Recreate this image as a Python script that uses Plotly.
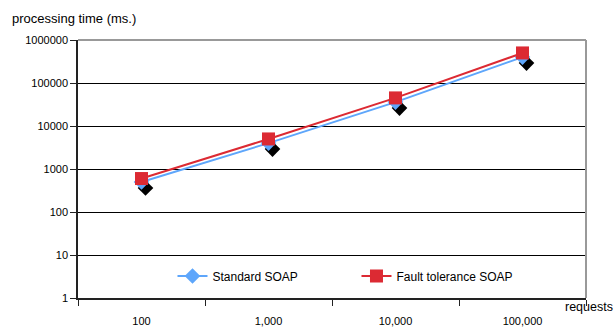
import plotly.graph_objects as go

categories = ["100", "1,000", "10,000", "100,000"]
standard_soap = [500, 4000, 36000, 400000]
fault_tolerance_soap = [600, 5000, 45000, 500000]
y_tick_vals = [1, 10, 100, 1000, 10000, 100000, 1000000]
y_tick_text = ["1", "10", "100", "1000", "10000", "100000", "1000000"]

FONT = "Liberation Sans, Arial, sans-serif"
BLUE = "#5ea6fb"
RED = "#dc2a33"

# shadow offsets (in axis units) to mimic the spreadsheet drop-shadow
sx = 4 / 127.0
sy = 6 / 43.0

fig = go.Figure()

# shadow markers (base axes, hidden)
fig.add_trace(go.Scatter(
    x=categories, y=standard_soap, mode="markers",
    marker=dict(symbol="diamond", size=12, color="black"),
    xaxis="x", yaxis="y", showlegend=False, hoverinfo="skip"))

fig.add_trace(go.Scatter(
    x=categories, y=standard_soap, name="Standard SOAP",
    mode="lines+markers",
    line=dict(color=BLUE, width=2),
    marker=dict(symbol="diamond", size=12, color=BLUE),
    xaxis="x2", yaxis="y2"))

fig.add_trace(go.Scatter(
    x=categories, y=fault_tolerance_soap, name="Fault tolerance SOAP",
    mode="lines+markers",
    line=dict(color=RED, width=2),
    marker=dict(symbol="square", size=13, color=RED),
    xaxis="x2", yaxis="y2"))

fig.update_layout(
    width=615, height=327,
    margin=dict(l=78, r=29, t=40, b=29, autoexpand=False),
    paper_bgcolor="white", plot_bgcolor="white",
    font=dict(family=FONT, size=11, color="black"),
    xaxis=dict(type="category", categoryorder="array", categoryarray=categories,
               range=[-0.5 - sx, 3.5 - sx], visible=False, showgrid=False,
               automargin=False),
    yaxis=dict(type="log", range=[0 + sy, 6 + sy], visible=False, showgrid=False,
               automargin=False),
    xaxis2=dict(type="category", categoryorder="array", categoryarray=categories,
                range=[-0.5, 3.5], overlaying="x", anchor="y2",
                showgrid=False, zeroline=False, automargin=False,
                showline=True, linecolor="#222", linewidth=1.5,
                ticks="outside", tickson="boundaries", ticklen=6, tickcolor="#222",
                ticklabelstandoff=12,
                tickfont=dict(family=FONT, size=11)),
    yaxis2=dict(type="log", range=[0, 6], overlaying="y", anchor="x2", side="left",
                tickvals=y_tick_vals, ticktext=y_tick_text, automargin=False,
                showgrid=True, gridcolor="black", gridwidth=1,
                showline=True, linecolor="#222", linewidth=1.5,
                ticks="outside", ticklen=6, tickcolor="#222",
                tickfont=dict(family=FONT, size=11)),
    legend=dict(orientation="h", x=0.186, xanchor="left", y=0.085, yanchor="middle",
                bgcolor="rgba(0,0,0,0)", font=dict(family=FONT, size=12),
                entrywidth=139, entrywidthmode="pixels"),
    shapes=[
        dict(type="line", xref="paper", yref="paper", x0=0, x1=1, y0=1, y1=1,
             line=dict(color="#999", width=2), layer="above"),
        dict(type="line", xref="paper", yref="paper", x0=1, x1=1, y0=0, y1=1,
             line=dict(color="#999", width=2), layer="above"),
    ],
    annotations=[
        dict(text="processing time (ms.)", xref="paper", yref="paper",
             x=-0.133, y=1.0, xanchor="left", yanchor="middle", yshift=22,
             showarrow=False, font=dict(family=FONT, size=13)),
        dict(text="requests", xref="paper", yref="paper",
             x=1.0, y=0, xanchor="center", yanchor="middle", xshift=3, yshift=-9,
             showarrow=False, font=dict(family=FONT, size=12.5)),
    ],
)

fig.write_html("out.html", config={"displayModeBar": False},
               post_script="document.body.style.margin='0';document.body.style.overflow='hidden';")
